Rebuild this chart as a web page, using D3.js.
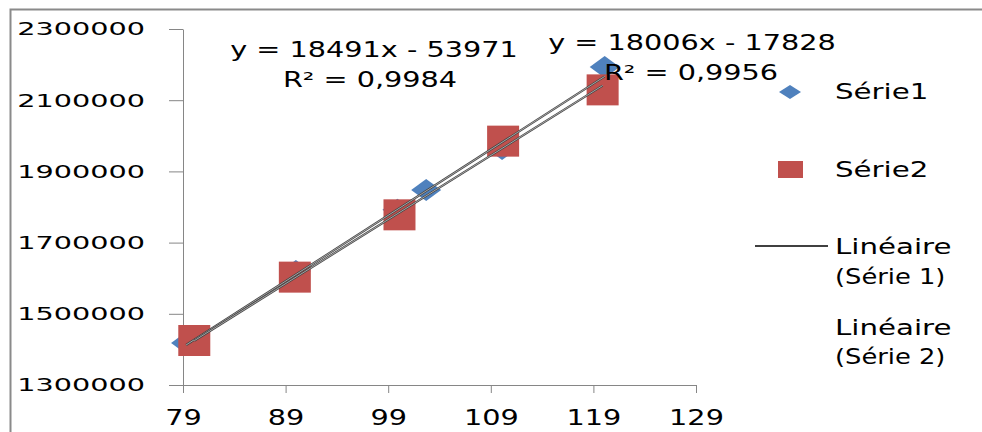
<!DOCTYPE html>
<html>
<head>
<meta charset="utf-8">
<script src="https://d3js.org/d3.v7.min.js"></script>
<style>
  body { margin: 0; background: #fff; }
  text { font-family: "DejaVu Sans", sans-serif; fill: #000; }
</style>
</head>
<body>
<div id="chart"></div>
<script>
// values
const xTicks = [79, 89, 99, 109, 119, 129];
const yTicks = [1300000, 1500000, 1700000, 1900000, 2100000, 2300000];

const serie1X = [79.3, 90.0, 99.9, 102.7, 110.1, 120.1];
const serie1Y = [1418000, 1620000, 1792000, 1848000, 1963000, 2193000];
const serie2X = [80.1, 89.9, 100.1, 110.2, 119.9];
const serie2Y = [1425000, 1603000, 1778000, 1985000, 2129000];

// linear trendlines as printed on the chart
const trendSlopes = [18491, 18006];
const trendIntercepts = [-53971, -17828];
const trendLabels = [
    ["y = 18491x - 53971", "R² = 0,9984"],
    ["y = 18006x - 17828", "R² = 0,9956"]
];

const legendNames = ["Série1", "Série2"];
const trendNames = [["Linéaire", "(Série 1)"], ["Linéaire", "(Série 2)"]];

const width = 982, height = 432;
const blue = "#4F81BD", red = "#C0504D", axisColor = "#868686";

const svg = d3.select("#chart")
    .append("svg")
    .attr("width", width)
    .attr("height", height);

// the picture is stretched sideways, so widen the text the same way
function stretch(sel, k) {
    sel.each(function () {
        const w = this.getComputedTextLength();
        this.setAttribute("textLength", w * k);
        this.setAttribute("lengthAdjust", "spacingAndGlyphs");
    });
}

// frame (only left and top edges show)
svg.append("path")
    .attr("d", `M10.5,${height} V9.5 H${width}`)
    .attr("fill", "none")
    .attr("stroke", "#8a8a8a")
    .attr("stroke-width", 2);

const x = d3.scaleLinear().domain([79, 129]).range([183, 696]);
const y = d3.scaleLinear().domain([1300000, 2300000]).range([385, 29]);

// y axis
const yAxis = svg.append("g")
    .attr("transform", `translate(${x(79)},0)`)
    .call(d3.axisLeft(y).tickValues(yTicks).tickSize(14).tickSizeOuter(0).tickPadding(24).tickFormat(d3.format("d")));
yAxis.selectAll("path, line").attr("stroke", axisColor);
yAxis.selectAll("text").attr("font-size", "18.5px").attr("font-family", null).attr("fill", "#000");
stretch(yAxis.selectAll("text"), 1.55);

// x axis
const xAxis = svg.append("g")
    .attr("transform", `translate(0,${y(1300000)})`)
    .call(d3.axisBottom(x).tickValues(xTicks).tickSize(8).tickSizeOuter(0).tickPadding(17).tickFormat(d3.format("d")));
xAxis.selectAll("path, line").attr("stroke", axisColor);
xAxis.selectAll("text").attr("font-size", "20.5px").attr("font-family", null).attr("fill", "#000");
stretch(xAxis.selectAll("text"), 1.4);

const diamond = (cx, cy, hw, hh) => `M${cx},${cy - hh} L${cx + hw},${cy} L${cx},${cy + hh} L${cx - hw},${cy} Z`;

// series 1 : diamonds
svg.append("g").selectAll("path")
    .data(d3.zip(serie1X, serie1Y))
    .enter()
    .append("path")
    .attr("d", d => diamond(x(d[0]), y(d[1]), 15, 11))
    .attr("fill", blue);

// series 2 : squares
svg.append("g").selectAll("rect")
    .data(d3.zip(serie2X, serie2Y))
    .enter()
    .append("rect")
    .attr("x", d => x(d[0]) - 16)
    .attr("y", d => y(d[1]) - 15.5)
    .attr("width", 32)
    .attr("height", 31)
    .attr("fill", red);

// trendlines, from the lowest to the highest x of each series
const seriesX = [serie1X, serie2X];
trendSlopes.forEach((slope, i) => {
    const [x0, x1] = d3.extent(seriesX[i]);
    const pts = [x0, x1].map(v => [x(v), y(slope * v + trendIntercepts[i])]);
    const line = d3.line();
    svg.append("path").attr("d", line(pts)).attr("stroke", "#444").attr("stroke-width", 2.2).attr("fill", "none");
    svg.append("path").attr("d", line(pts)).attr("stroke", "#cfcfcf").attr("stroke-width", 0.7).attr("fill", "none");
});

// trendline labels
const labelPos = [
    [[374, 57], [370, 87]],
    [[692, 50], [691, 80]]
];
trendLabels.forEach((lines, i) => {
    lines.forEach((t, j) => {
        const txt = svg.append("text")
            .attr("x", labelPos[i][j][0])
            .attr("y", labelPos[i][j][1])
            .attr("text-anchor", "middle")
            .attr("font-size", "20.5px")
            .text(t);
        stretch(txt, 1.4);
    });
});

// legend
const legend = svg.append("g").attr("class", "legend");
const legendX = 835;

legend.append("path").attr("d", diamond(790, 92, 11, 7)).attr("fill", blue);
legend.append("rect").attr("x", 778).attr("y", 161).attr("width", 25).attr("height", 17).attr("fill", red);
legend.append("line").attr("x1", 755).attr("x2", 828).attr("y1", 246).attr("y2", 246).attr("stroke", "#000").attr("stroke-width", 1.5);

const legendRows = [
    [legendNames[0], 99, 1.33],
    [legendNames[1], 177, 1.33],
    [trendNames[0][0], 254, 1.33],
    [trendNames[0][1], 284, 1.17],
    [trendNames[1][0], 335, 1.33],
    [trendNames[1][1], 364, 1.17]
];
legendRows.forEach(([t, yy, k]) => {
    const txt = legend.append("text")
        .attr("x", legendX)
        .attr("y", yy)
        .attr("font-size", "22px")
        .text(t);
    stretch(txt, k);
});
</script>
</body>
</html>
